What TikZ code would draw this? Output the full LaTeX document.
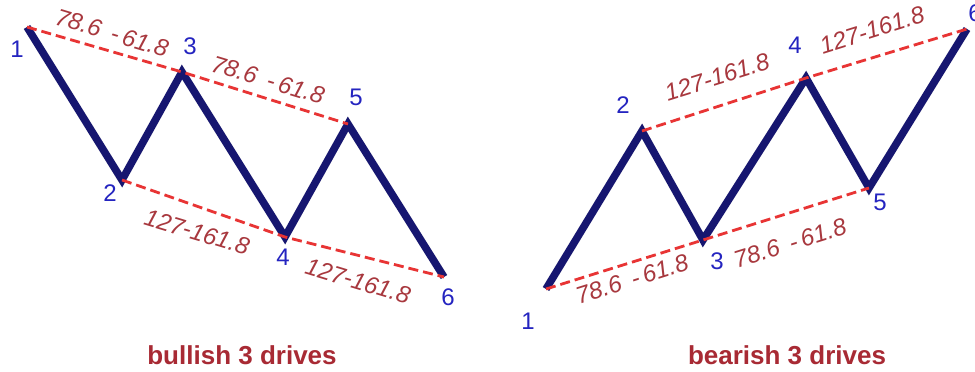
\documentclass[tikz,border=0pt]{standalone}
\usepackage{fontspec}
\setmainfont{Liberation Sans}
\definecolor{navy}{RGB}{22,22,112}
\definecolor{dashred}{RGB}{232,52,52}
\definecolor{numblue}{RGB}{36,36,192}
\definecolor{labred}{RGB}{168,56,62}
\definecolor{titred}{RGB}{168,42,52}
\begin{document}
\begin{tikzpicture}[x=1pt,y=-1pt,
  wave/.style={draw=navy,line width=7.5pt,miter limit=10,line join=miter},
  wshadow/.style={draw=black,opacity=0.07,line width=8pt,line join=miter},
  guide/.style={draw=dashred,line width=2.8pt,dash pattern=on 10pt off 5pt},
  num/.style={text=numblue,font=\fontsize{24}{24}\selectfont,inner sep=0pt},
  ratio/.style={text=labred,font=\itshape\fontsize{24}{24}\selectfont,inner sep=0pt},
  title/.style={text=titred,font=\bfseries\fontsize{26}{26}\selectfont,inner sep=0pt}]
\useasboundingbox (0,0) rectangle (975,372);
\fill[white] (0,0) rectangle (975,372);
% left (bullish) points
\coordinate (a1) at (27,27);
\coordinate (a2) at (122,180);
\coordinate (a3) at (182,72);
\coordinate (a4) at (285,237);
\coordinate (a5) at (348,124);
\coordinate (a6) at (444,277);
% right (bearish) points
\coordinate (b1) at (546,289);
\coordinate (b2) at (642,131);
\coordinate (b3) at (703,240);
\coordinate (b4) at (806,78);
\coordinate (b5) at (869,188);
\coordinate (b6) at (967,29);
% shadows
\begin{scope}[xshift=10pt,yshift=-2pt]
\draw[wshadow] (a1) -- (a2) -- (a3) -- (a4) -- (a5) -- (a6);
\draw[wshadow] (b1) -- (b2) -- (b3) -- (b4) -- (b5) -- (b6);
\end{scope}
% waves
\draw[wave] (a1) -- (a2) -- (a3) -- (a4) -- (a5) -- (a6);
\draw[wave] (b1) -- (b2) -- (b3) -- (b4) -- (b5) -- (b6);
% guides
\draw[guide] (a1) -- (a3) -- (a5);
\draw[guide] (a2) -- (a4) -- (a6);
\draw[guide] (b1) -- (b3) -- (b5);
\draw[guide] (b2) -- (b4) -- (b6);
% point numbers
\node[num] (na1) at (17,49) {1};
\node[num] (na2) at (110,193) {2};
\node[num] (na3) at (190,46) {3};
\node[num] (na4) at (283,257) {4};
\node[num] (na5) at (356,97) {5};
\node[num] (na6) at (448,297) {6};
\node[num] (nb1) at (528,321) {1};
\node[num] (nb2) at (623,105) {2};
\node[num] (nb3) at (717,261) {3};
\node[num] (nb4) at (795,45) {4};
\node[num] (nb5) at (880,202) {5};
\node[num] (nb6) at (975,13) {6};
% ratio labels
\node[ratio,rotate=-16.8] (ra1) at (112,33) {78.6\hspace{11pt}-\hspace{4pt}61.8};
\node[ratio,rotate=-16.8] (ra2) at (268,80) {78.6\hspace{11pt}-\hspace{4pt}61.8};
\node[ratio,rotate=-16.8] (ra3) at (197,232) {127-161.8};
\node[ratio,rotate=-16.8] (ra4) at (358,281) {127-161.8};
\node[ratio,rotate=17.4] (rb1) at (717,77) {127-161.8};
\node[ratio,rotate=17.4] (rb2) at (872,30) {127-161.8};
\node[ratio,rotate=17.4] (rb3) at (632,279) {78.6\hspace{11pt}-\hspace{4pt}61.8};
\node[ratio,rotate=17.4] (rb4) at (790,243) {78.6\hspace{11pt}-\hspace{4pt}61.8};
% titles
\node[title] (tl) at (242,355) {bullish 3 drives};
\node[title] (tr) at (787,355) {bearish 3 drives};
\end{tikzpicture}
\end{document}
